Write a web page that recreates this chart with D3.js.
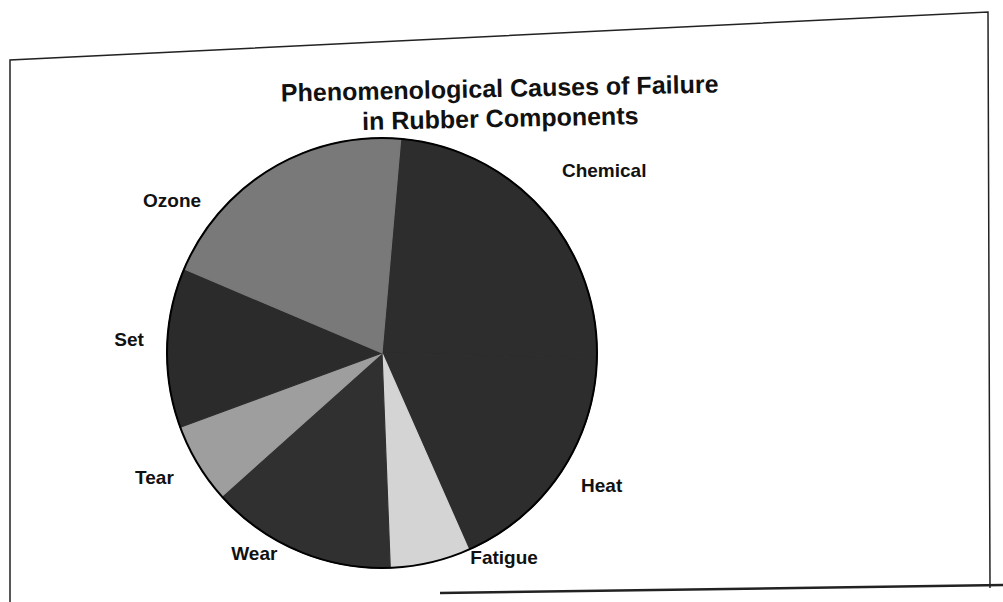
<!DOCTYPE html>
<html>
<head>
<meta charset="utf-8">
<script src="https://cdn.jsdelivr.net/npm/d3@7"></script>
<style>
  body { margin: 0; background: #fff; }
  svg { display: block; }
  text { font-family: Arial, "Liberation Sans", sans-serif; fill: #111; }
</style>
</head>
<body>
<svg id="chart"></svg>
<script>
// slices in clockwise order, starting just right of 12 o'clock
var causes = ["Chemical", "Heat", "Fatigue", "Wear", "Tear", "Set", "Ozone"]
var shares = [24, 18, 6, 14, 6, 12, 20]
var titleLines = ["Phenomenological Causes of Failure", "in Rubber Components"]

var screen = {width:1003, height:602}
var center = {x:382, y:353}
var radius = 215

var shades = {
    Chemical:"#2d2d2d", Heat:"#2d2d2d", Fatigue:"#d4d4d4",
    Wear:"#303030", Tear:"#9e9e9e", Set:"#2b2b2b", Ozone:"#797979"
}

// label offset from the slice's mid point just outside the rim
var labelNudge = {
    Chemical:{dx:53, dy:-31}, Heat:{dx:31, dy:6}, Fatigue:{dx:71, dy:-17},
    Wear:{dx:-39, dy:-8}, Tear:{dx:-33, dy:8}, Set:{dx:-26, dy:-8}, Ozone:{dx:-93, dy:42}
}

var svg = d3.select("#chart")
            .attr("width", screen.width)
            .attr("height", screen.height)

// scanned page frame
svg.append("path")
   .attr("d", "M10,602 L10,60 L988,12 L990,588")
   .attr("fill", "none")
   .attr("stroke", "#222")
   .attr("stroke-width", 1.5)
svg.append("path")
   .attr("d", "M440,593 L1003,585")
   .attr("fill", "none")
   .attr("stroke", "#222")
   .attr("stroke-width", 2.5)

// the scan is a little crooked, so the title leans up to the right
var title = svg.append("text")
               .attr("x", 500)
               .attr("y", 97)
               .attr("text-anchor", "middle")
               .attr("transform", "rotate(-1.2,500,105)")
               .style("font-size", "25px")
               .style("font-weight", "bold")
title.selectAll("tspan")
     .data(titleLines)
     .enter()
     .append("tspan")
     .attr("x", 500)
     .attr("dy", function(d, i){ return i == 0 ? 0 : 30 })
     .text(function(d){ return d })

var data = causes.map(function(c, i){ return {name:c, value:shares[i]} })

var startDeg = 5
var pie = d3.pie()
            .sort(null)
            .value(function(d){ return d.value })
            .startAngle(startDeg * Math.PI / 180)
            .endAngle((startDeg + 360) * Math.PI / 180)

var arc = d3.arc().innerRadius(0).outerRadius(radius)
var rim = d3.arc().innerRadius(radius + 12).outerRadius(radius + 12)

var g = svg.append("g")
           .attr("transform", "translate(" + center.x + "," + center.y + ")")

var slices = pie(data)

// stroke in the fill colour so Chemical and Heat read as one dark block
g.selectAll("path.slice")
 .data(slices)
 .enter()
 .append("path")
 .attr("class", "slice")
 .attr("d", arc)
 .attr("fill", function(d){ return shades[d.data.name] })
 .attr("stroke", function(d){ return shades[d.data.name] })
 .attr("stroke-width", 1.2)

g.append("circle")
 .attr("r", radius)
 .attr("fill", "none")
 .attr("stroke", "#000")
 .attr("stroke-width", 2)

g.selectAll("text.label")
 .data(slices)
 .enter()
 .append("text")
 .attr("class", "label")
 .attr("x", function(d){ return rim.centroid(d)[0] + labelNudge[d.data.name].dx })
 .attr("y", function(d){ return rim.centroid(d)[1] + labelNudge[d.data.name].dy })
 .attr("text-anchor", "middle")
 .attr("dominant-baseline", "central")
 .style("font-size", "19px")
 .style("font-weight", "bold")
 .text(function(d){ return d.data.name })
</script>
</body>
</html>
